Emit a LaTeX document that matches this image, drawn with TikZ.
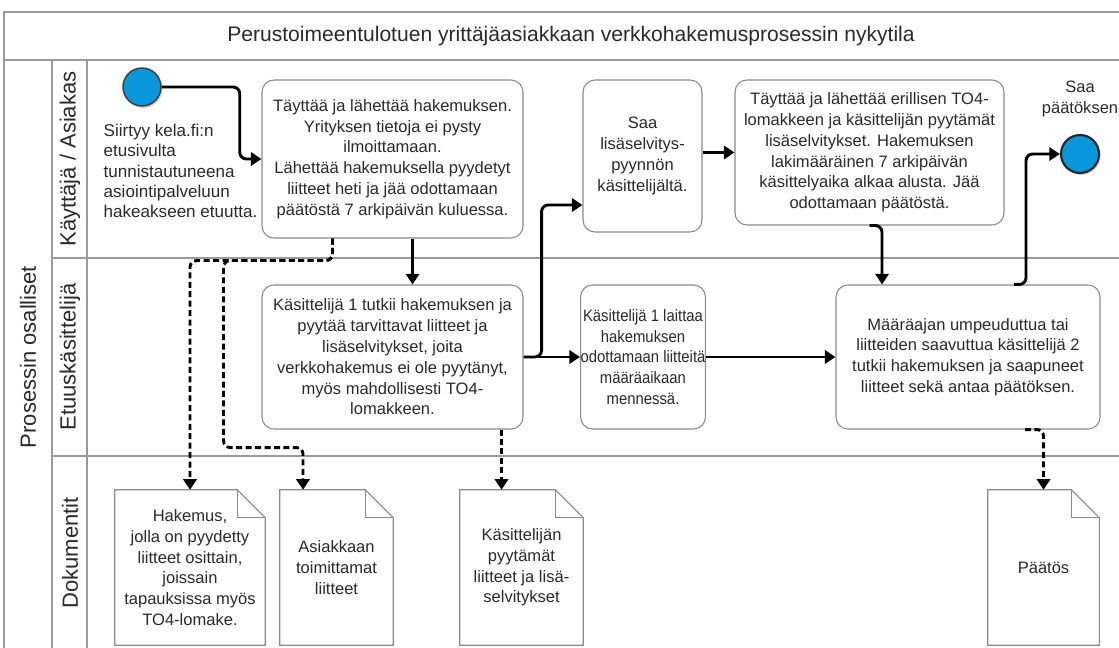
\documentclass[tikz,border=0pt]{standalone}
\usepackage{fontspec}
\setmainfont{Liberation Sans}
\newfontfamily\narrowsans[FakeStretch=0.9]{Liberation Sans}
\usetikzlibrary{arrows.meta,calc,shadows}
\definecolor{txt}{HTML}{2A2A2A}
\definecolor{framec}{HTML}{9A9A9A}
\definecolor{bord}{HTML}{8A8A8A}
\definecolor{evblue}{HTML}{0A96DA}
\newcommand\docdraw[1]{%
  \draw[docline] (#1.north west) -- ($(#1.north east)+(-28,0)$) -- ($(#1.north east)+(0,28)$) -- (#1.south east) -- (#1.south west) -- cycle;
  \draw[docline, fill=none] ($(#1.north east)+(-28,0)$) -- ($(#1.north east)+(-28,28)$) -- ($(#1.north east)+(0,28)$);}
\begin{document}
\begin{tikzpicture}[x=0.75pt,y=-0.75pt,
  every node/.style={text=txt, font=\fontsize{12.4}{15.6}\selectfont},
  sz/.style 2 args={minimum width=#1*0.75pt, minimum height=#2*0.75pt},
  taskbox/.style={draw=bord, line width=0.8pt, rounded corners=9pt, fill=white, align=center, inner sep=0pt},
  docbox/.style={draw=none, align=center, inner sep=0pt},
  docline/.style={draw=bord, line width=0.8pt, fill=white},
  frameline/.style={draw=framec, line width=1.3pt},
  lanelabel/.style={rotate=90, font=\fontsize{16.5}{19}\selectfont},
  evstart/.style={circle, draw=black!75, line width=1.1pt, fill=evblue, minimum size=28.5pt, inner sep=0pt,
     drop shadow={opacity=0.35, shadow xshift=1.2pt, shadow yshift=-1.5pt}},
  evend/.style={circle, draw=black!85, line width=1.6pt, fill=evblue, minimum size=28.5pt, inner sep=0pt,
     drop shadow={opacity=0.35, shadow xshift=1.2pt, shadow yshift=-1.5pt}},
  tip/.style={-{Triangle[length=8pt,width=10pt]}},
  flow/.style={draw=black, line width=2.2pt, rounded corners=5pt, tip},
  dflow/.style={draw=black, line width=2.2pt, rounded corners=5pt, dash pattern=on 4.5pt off 2.6pt, tip}
]
\useasboundingbox (0,0) rectangle (1119,648);

% frame
\draw[frameline] (4,648) -- (4,12) -- (1119,12);
\draw[frameline] (4,60) -- (1119,60);
\draw[frameline] (52,60) -- (52,648);
\draw[frameline] (87,60) -- (87,648);
\draw[frameline] (52,258) -- (1119,258);
\draw[frameline] (52,456) -- (1119,456);

\node[font=\fontsize{15.8}{19}\selectfont] (title) at (571,36) {Perustoimeentulotuen yrittäjäasiakkaan verkkohakemusprosessin nykytila};
\node[lanelabel] (lp) at (28,357) {Prosessin osalliset};
\node[lanelabel] (l1) at (70,159) {Käyttäjä / Asiakas};
\node[lanelabel] (l2) at (70,357) {Etuuskäsittelijä};
\node[lanelabel] (l3) at (70,553) {Dokumentit};

% events
\node[evstart] (S) at (142,87) {};
\node[anchor=west, align=left, font=\fontsize{12.8}{15.2}\selectfont] (St) at (99,171) {Siirtyy kela.fi:n\\etusivulta\\tunnistautuneena\\asiointipalveluun\\hakeakseen etuutta.};
\node[evend] (E) at (1080,154) {};
\node[align=center] (Et) at (1080,99) {Saa\\päätöksen};

% tasks
\node[taskbox, sz={261}{158}] (A1) at (392.5,159) {Täyttää ja lähettää hakemuksen.\\Yrityksen tietoja ei pysty\\ilmoittamaan.\\Lähettää hakemuksella pyydetyt\\liitteet heti ja jää odottamaan\\päätöstä 7 arkipäivän kuluessa.};
\node[taskbox, sz={119}{152}] (A2) at (642.5,156) {Saa\\lisäselvitys-\\pyynnön\\käsittelijältä.};
\node[taskbox, sz={269}{145}] (A3) at (869.5,152.5) {Täyttää ja lähettää erillisen TO4-\\lomakkeen ja käsittelijän pyytämät\\lisäselvitykset. Hakemuksen\\lakimääräinen 7 arkipäivän\\käsittelyaika alkaa alusta. Jää\\odottamaan päätöstä.};
\node[taskbox, sz={261}{144}] (B1) at (392.5,357) {Käsittelijä 1 tutkii hakemuksen ja\\pyytää tarvittavat liitteet ja\\lisäselvitykset, joita\\verkkohakemus ei ole pyytänyt,\\myös mahdollisesti TO4-\\lomakkeen.};
\node[taskbox, sz={122}{144}, font=\narrowsans\fontsize{12.4}{15.6}\selectfont] (B2) at (643,357) {Käsittelijä 1 laittaa\\hakemuksen\\odottamaan liitteitä\\määräaikaan\\mennessä.};
\node[taskbox, sz={264}{144}] (B3) at (968,357) {Määräajan umpeuduttua tai\\liitteiden saavuttua käsittelijä 2\\tutkii hakemuksen ja saapuneet\\liitteet sekä antaa päätöksen.};

% documents
\node[docbox, sz={150}{155}] (D1) at (190,567.5) {};
\node[docbox, sz={113}{155}] (D2) at (336.5,567.5) {};
\node[docbox, sz={123}{155}] (D3) at (521.5,567.5) {};
\node[docbox, sz={111}{155}] (D4) at (1043.5,567.5) {};
\docdraw{D1}\docdraw{D2}\docdraw{D3}\docdraw{D4}
\node[align=center] (D1t) at (D1) {Hakemus,\\jolla on pyydetty\\liitteet osittain,\\joissain\\tapauksissa myös\\TO4-lomake.};
\node[align=center] (D2t) at (D2) {Asiakkaan\\toimittamat\\liitteet};
\node[align=center] (D3t) at (D3) {Käsittelijän\\pyytämät\\liitteet ja lisä-\\selvitykset};
\node[align=center] (D4t) at (D4) {Päätös};

% flows
\draw[flow] (S.east) -- ++(78,0) |- (A1.west);
\draw[flow] ($(A1.south)+(20,0)$) coordinate (t1) -- (t1 |- B1.north);
\draw[flow] (B1.east) -- (B2.west);
\draw[flow] (B1.east) -- ++(18,0) |- ($(A2.west)+(0,49)$);
\draw[flow] (B2.east) -- (B3.west);
\draw[flow] (A2.east |- A3.west) -- (A3.west);
\draw[flow] (A3.south) -| ($(B3.north)+(-86,0)$);
\draw[flow] ($(B3.north)+(46,0)$) -- ++(12,0) |- (E.west);

% data associations
\draw[dflow] ($(A1.south)+(-60,0)$) -- ++(0,22) -| (D1.north);
\draw[dflow] ($(A1.south)+(-60,0)$) -- ++(0,22) -- ++(-109,0) -- ++(0,187) -| ($(D2.north)+(-33.5,0)$);
\draw[dflow] ($(B1.south)+(109,0)$) coordinate (t3) -- (t3 |- D3.north);
\draw[dflow] ($(B3.south)+(57,0)$) -| (D4.north);
\end{tikzpicture}
\end{document}
